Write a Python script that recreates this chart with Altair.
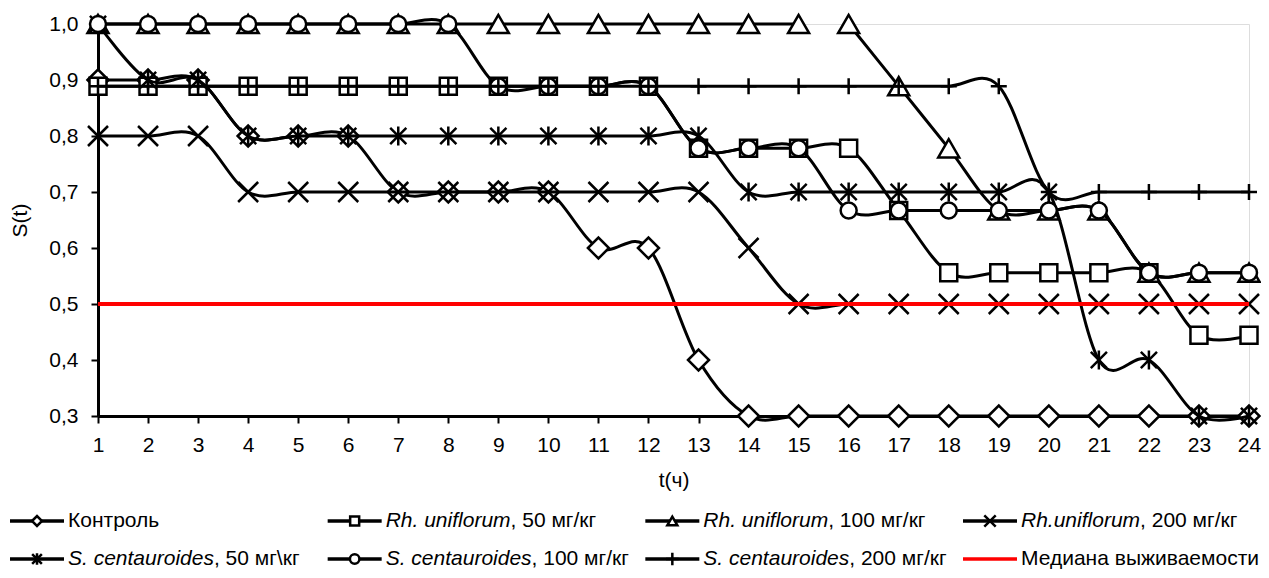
import altair as alt
import pandas as pd

# ---------------- data ----------------
hours = list(range(1, 25))
control = [0.9, 0.9, 0.9, 0.8, 0.8, 0.8, 0.7, 0.7, 0.7, 0.7, 0.6, 0.6,
           0.4, 0.3, 0.3, 0.3, 0.3, 0.3, 0.3, 0.3, 0.3, 0.3, 0.3, 0.3]
rh50 = [0.889, 0.889, 0.889, 0.889, 0.889, 0.889, 0.889, 0.889, 0.889, 0.889, 0.889, 0.889,
        0.778, 0.778, 0.778, 0.778, 0.667, 0.556, 0.556, 0.556, 0.556, 0.556, 0.444, 0.444]
rh100 = [1.0, 1.0, 1.0, 1.0, 1.0, 1.0, 1.0, 1.0, 1.0, 1.0, 1.0, 1.0,
         1.0, 1.0, 1.0, 1.0, 0.889, 0.778, 0.667, 0.667, 0.667, 0.556, 0.556, 0.556]
rh100_break_after = 15
rh200 = [0.8, 0.8, 0.8, 0.7, 0.7, 0.7, 0.7, 0.7, 0.7, 0.7, 0.7, 0.7,
         0.7, 0.6, 0.5, 0.5, 0.5, 0.5, 0.5, 0.5, 0.5, 0.5, 0.5, 0.5]
sc50 = [1.0, 0.9, 0.9, 0.8, 0.8, 0.8, 0.8, 0.8, 0.8, 0.8, 0.8, 0.8,
        0.8, 0.7, 0.7, 0.7, 0.7, 0.7, 0.7, 0.7, 0.4, 0.4, 0.3, 0.3]
sc100 = [1.0, 1.0, 1.0, 1.0, 1.0, 1.0, 1.0, 1.0, 0.889, 0.889, 0.889, 0.889,
         0.778, 0.778, 0.778, 0.667, 0.667, 0.667, 0.667, 0.667, 0.667, 0.556, 0.556, 0.556]
sc200 = [0.889, 0.889, 0.889, 0.889, 0.889, 0.889, 0.889, 0.889, 0.889, 0.889, 0.889, 0.889,
         0.889, 0.889, 0.889, 0.889, 0.889, 0.889, 0.889, 0.7, 0.7, 0.7, 0.7, 0.7]
median_level = 0.5

series_keys = ["control", "rh50", "rh100", "rh200", "sc50", "sc100", "sc200"]
series_values = [control, rh50, rh100, rh200, sc50, sc100, sc200]

legend_italic = ["", "Rh. uniflorum", "Rh. uniflorum", "Rh.uniflorum",
                 "S. centauroides", "S. centauroides", "S. centauroides", ""]
legend_rest = ["Контроль", ", 50 мг/кг", ", 100 мг/кг", ", 200 мг/кг",
               ", 50 мг\\кг", ", 100 мг/кг", ", 200 мг/кг", "Медиана выживаемости"]
legend_col = [0, 1, 2, 3, 0, 1, 2, 3]
legend_row = [0, 0, 0, 0, 1, 1, 1, 1]

# ---------------- styles ----------------
FONT = "Liberation Sans"
FS = 21
PLOT_W, PLOT_H = 1151, 392
shapes = {
    "control": "diamond",
    "rh50": "square",
    "rh100": "triangle-up",
    "rh200": "M-1,-1L1,1M-1,1L1,-1",
    "sc50": "M-0.85,-0.85L0.85,0.85M-0.85,0.85L0.85,-0.85M0,-1L0,1",
    "sc100": "circle",
    "sc200": "M-1,0L1,0M0,-1L0,1",
}
sizes = {"control": 441, "rh50": 289, "rh100": 441, "rh200": 400,
         "sc50": 361, "sc100": 256, "sc200": 256}
leg_sizes = {"control": 100, "rh50": 81, "rh100": 100, "rh200": 130,
             "sc50": 130, "sc100": 90, "sc200": 160}

# long table
rows = []
for key, vals in zip(series_keys, series_values):
    for t, v in zip(hours, vals):
        seg = 1 if (key == "rh100" and t > rh100_break_after) else 0
        rows.append({"t": t, "s": v, "series": key, "seg": seg})
df = pd.DataFrame(rows)
df_med = pd.DataFrame({"t": hours, "s": [median_level] * len(hours)})

x_enc = alt.X("t:Q", scale=alt.Scale(domain=[1, 24], nice=False, zero=False),
              axis=alt.Axis(values=hours, format="d", grid=False,
                            domainColor="black", domainWidth=3,
                            tickColor="black", tickWidth=2, tickSize=7,
                            labelFont=FONT, labelFontSize=FS, labelColor="black",
                            labelPadding=11, labelFlush=False, labelOverlap=False,
                            title="t(ч)", titleFont=FONT, titleFontSize=FS,
                            titleFontWeight="normal", titleColor="black",
                            titleX=PLOT_W / 2, titleY=64, titleBaseline="middle"))
y_enc = alt.Y("s:Q", scale=alt.Scale(domain=[0.3, 1.0], nice=False, zero=False),
              axis=alt.Axis(values=[0.3, 0.4, 0.5, 0.6, 0.7, 0.8, 0.9, 1.0],
                            labelExpr="replace(format(datum.value, '.1f'), '.', ',')",
                            grid=False, domainColor="black", domainWidth=3,
                            tickColor="black", tickWidth=2, tickSize=7,
                            labelFont=FONT, labelFontSize=FS, labelColor="black",
                            labelPadding=13, labelFlush=False, labelOverlap=False,
                            title="S(t)", titleFont=FONT, titleFontSize=FS,
                            titleFontWeight="normal", titleColor="black",
                            titleX=-78, titleY=PLOT_H / 2, titleAngle=-90,
                            titleAlign="center", titleBaseline="middle"))

base = alt.Chart(df)
main_layers = []
for key in series_keys:
    sub = base.transform_filter(alt.datum.series == key)
    main_layers.append(
        sub.mark_line(interpolate="cardinal", color="black", strokeWidth=3)
        .encode(x=x_enc, y=y_enc, detail="seg:N")
    )
    main_layers.append(
        sub.mark_point(shape=shapes[key], size=sizes[key], fill="white",
                       stroke="black", strokeWidth=2.5, opacity=1, filled=False,
                       fillOpacity=1)
        .encode(x=x_enc, y=y_enc)
    )
main_layers.append(
    alt.Chart(df_med).mark_line(color="#FF0000", strokeWidth=4)
    .encode(x=x_enc, y=y_enc)
)
main = alt.layer(*main_layers)

# ---------------- custom legend ----------------
leg_df = pd.DataFrame({
    "key": series_keys + ["median"],
    "it": legend_italic,
    "rest": legend_rest,
    "col": legend_col,
    "row": legend_row,
})
lx = alt.X("col:Q", scale=alt.Scale(domain=[0, 3], range=[-88, 865], nice=False, zero=False), axis=None)
ly = alt.Y("row:Q", scale=alt.Scale(domain=[0, 1], range=[497, 535], nice=False, zero=False), axis=None)

char_w = {"R": 722, "h": 556, ".": 278, " ": 278, "u": 556, "n": 556, "i": 222, "f": 278,
          "l": 222, "o": 556, "r": 333, "m": 833, "S": 667, "c": 500, "e": 556, "t": 278,
          "a": 556, "d": 556, "s": 500}

def text_w(s):
    return sum(char_w.get(ch, 556) for ch in s) / 1000.0 * FS

LINE_LEN = 54
TEXT_DX = 58
lbase = alt.Chart(leg_df)
legend_layers = [
    lbase.mark_point(shape="M-1,0L1,0", size=LINE_LEN ** 2, strokeWidth=3.5,
                     xOffset=LINE_LEN / 2, opacity=1, filled=False)
    .encode(x=lx, y=ly,
            stroke=alt.Stroke("key:N", scale=alt.Scale(
                domain=series_keys + ["median"],
                range=["black"] * 7 + ["#FF0000"]), legend=None)),
]
for key in series_keys:
    legend_layers.append(
        lbase.transform_filter(alt.datum.key == key)
        .mark_point(shape=shapes[key], size=leg_sizes[key], fill="white",
                    stroke="black", strokeWidth=2.5, xOffset=LINE_LEN / 2,
                    opacity=1, filled=False, fillOpacity=1)
        .encode(x=lx, y=ly)
    )
for i, key in enumerate(series_keys + ["median"]):
    sub = lbase.transform_filter(alt.datum.key == key)
    if legend_italic[i]:
        legend_layers.append(
            sub.mark_text(align="left", baseline="middle", dx=TEXT_DX, font=FONT,
                          fontSize=FS, fontStyle="italic", color="black")
            .encode(x=lx, y=ly, text="it:N")
        )
    legend_layers.append(
        sub.mark_text(align="left", baseline="middle",
                      dx=TEXT_DX + text_w(legend_italic[i]), font=FONT,
                      fontSize=FS, color="black")
        .encode(x=lx, y=ly, text="rest:N")
    )
legend = alt.layer(*legend_layers)

chart = (
    alt.layer(main, legend)
    .resolve_scale(x="independent", y="independent", stroke="independent")
    .properties(width=PLOT_W, height=PLOT_H,
                autosize=alt.AutoSizeParams(type="none"),
                padding={"left": 90, "top": 16, "right": 12, "bottom": 154})
    .configure_view(stroke=None)
    .configure(background="white")
)

chart.save("out.html", embed_options={"renderer": "svg", "actions": False})
